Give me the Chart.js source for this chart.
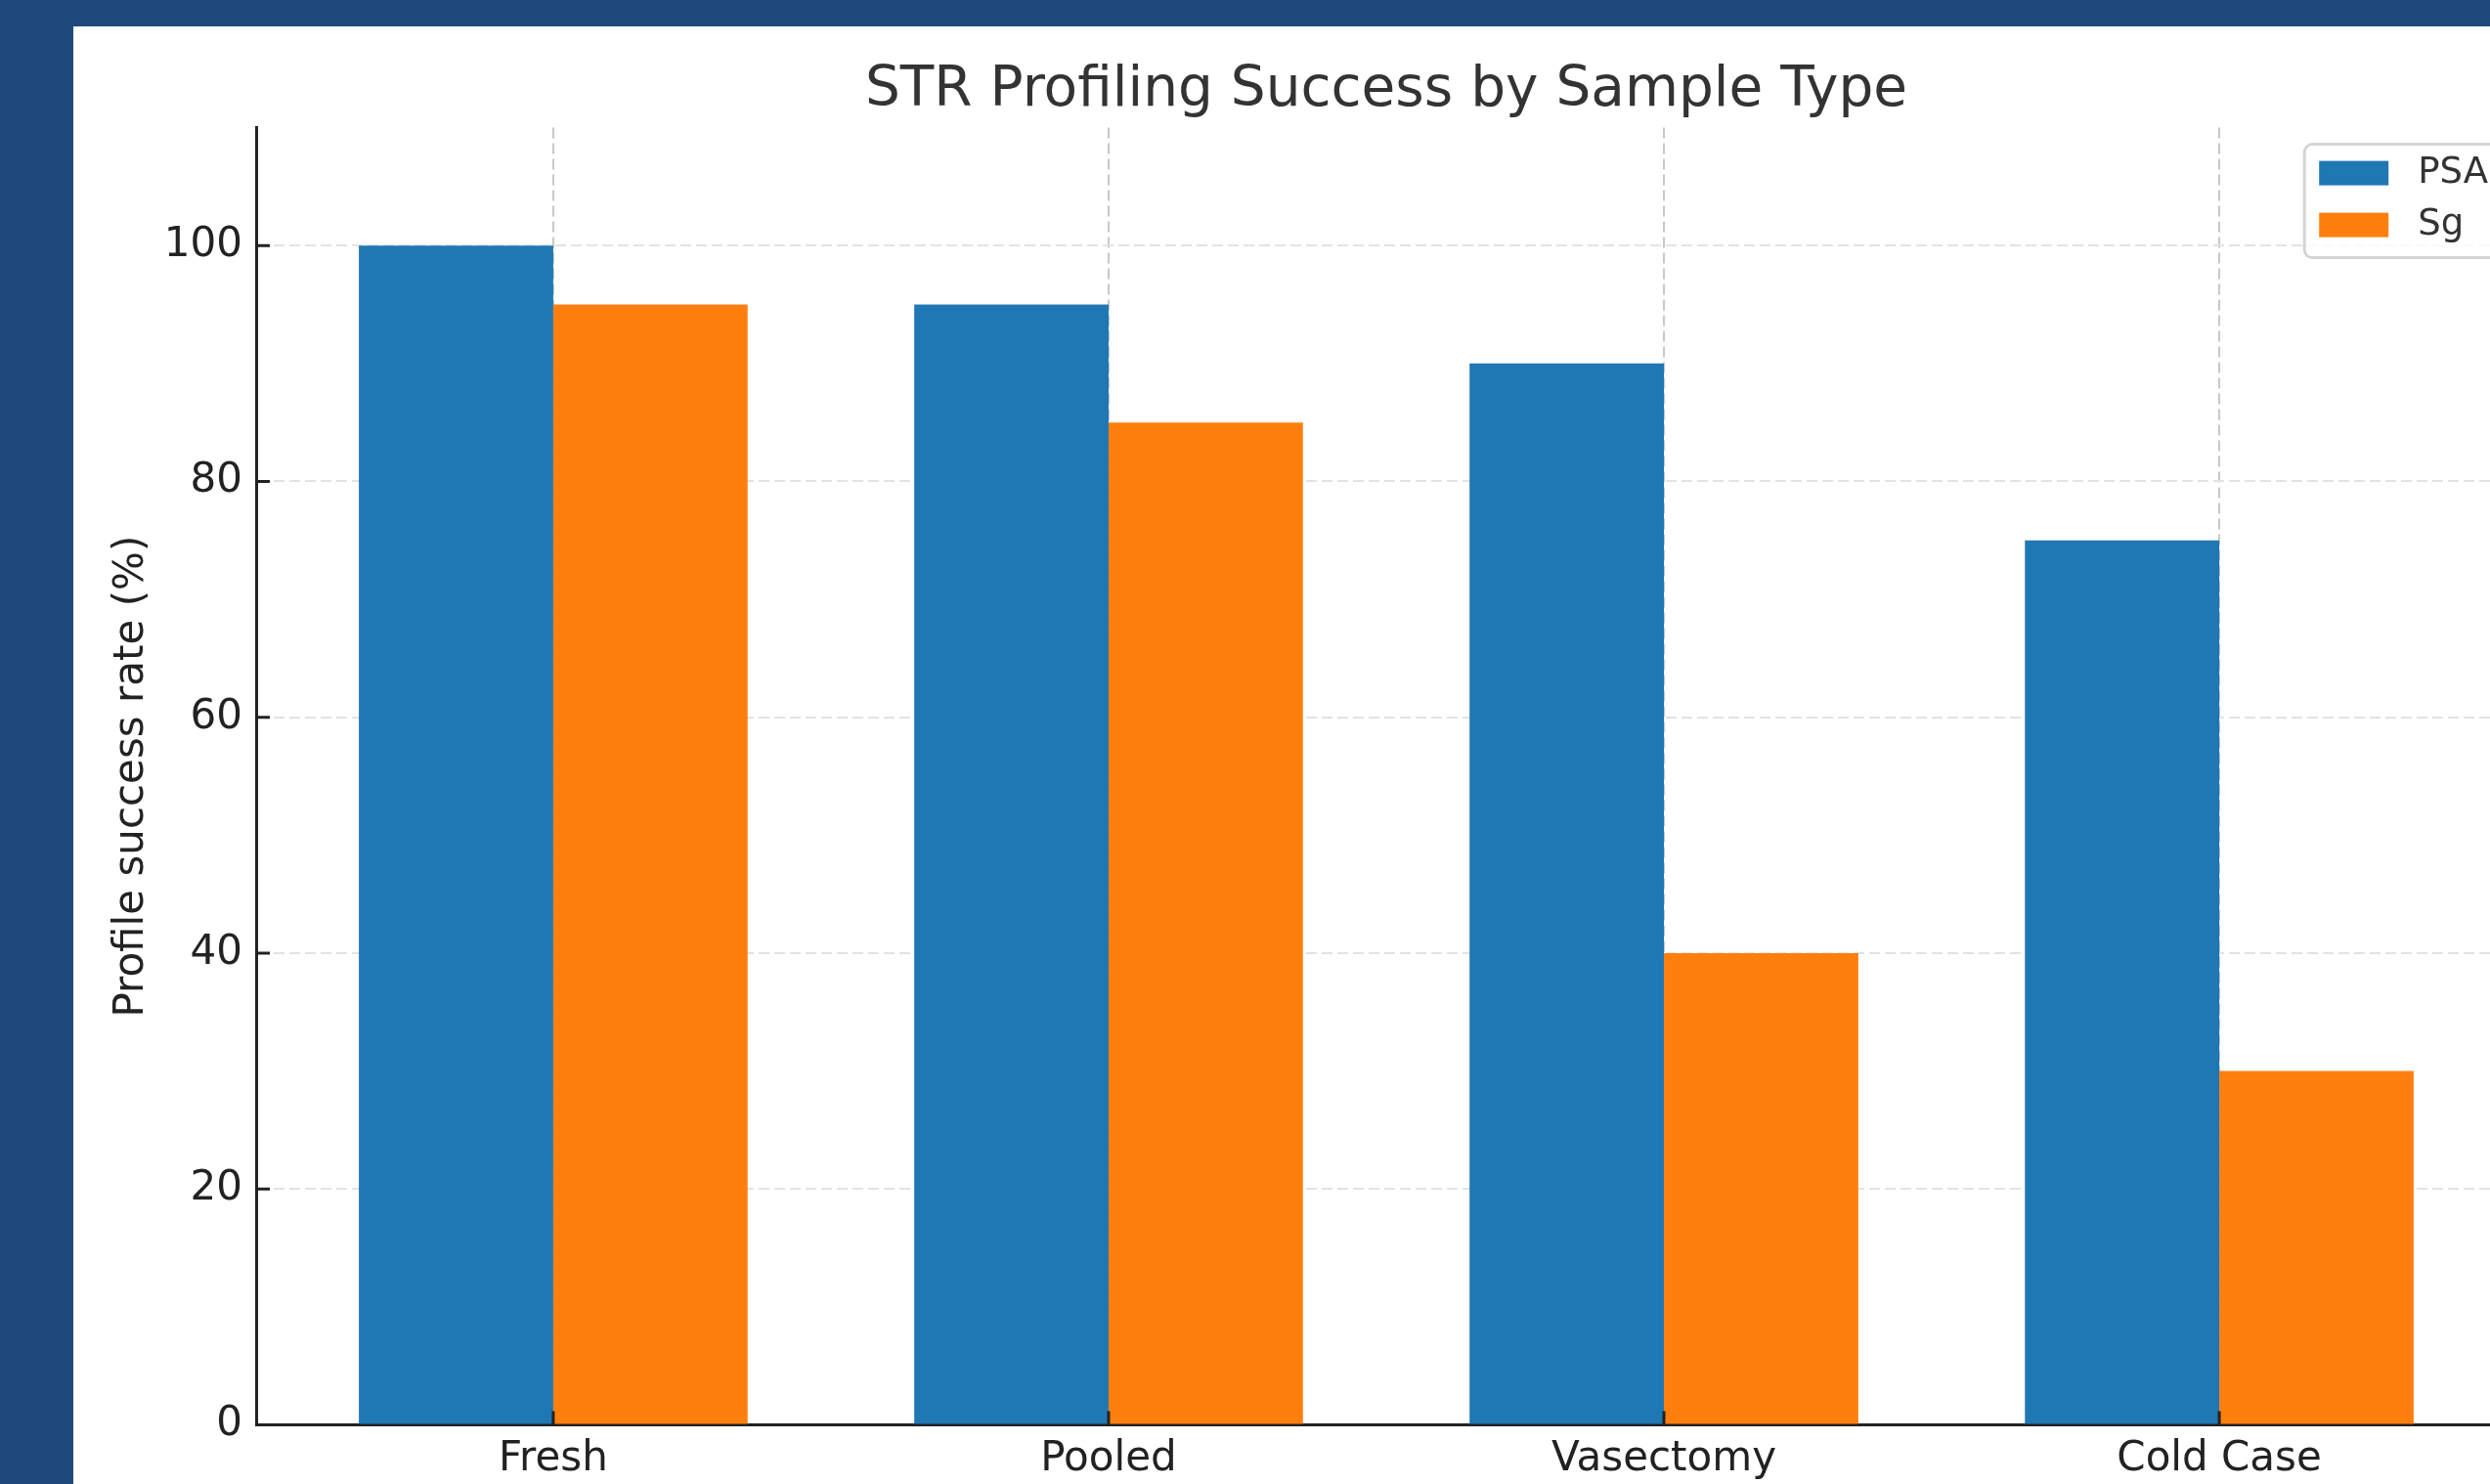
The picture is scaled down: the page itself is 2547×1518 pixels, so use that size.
<!DOCTYPE html>
<html>
<head>
<meta charset="utf-8">
<title>STR Profiling Success by Sample Type</title>
<script src="https://cdn.jsdelivr.net/npm/chart.js@4.4.0/dist/chart.umd.min.js"></script>
<style>
  html, body { margin: 0; padding: 0; }
  body { width: 2547px; height: 1518px; overflow: hidden; background: #1f497d; position: relative; }
  #wrap { position: absolute; left: 75px; top: 27px; width: 2686px; height: 1520px; background: #ffffff; }
  #strChart { display: block; }
</style>
</head>
<body>
<div id="wrap"><canvas id="strChart" width="2686" height="1520"></canvas></div>
<script>
const sampleTypes = ["Fresh", "Pooled", "Vasectomy", "Cold Case"];
const psaRates = [100, 95, 90, 75];
const sgRates = [95, 85, 40, 30];
const seriesNames = ["PSA", "Sg"];
const yTicks = [0, 20, 40, 60, 80, 100];

const ctx = document.getElementById("strChart");
Chart.defaults.font.family = '"DejaVu Sans", sans-serif';

// matplotlib style ticks pointing into the plot
const innerTicks = {
  id: "innerTicks",
  afterDraw(chart) {
    const c = chart.ctx;
    const x = chart.scales.x;
    const y = chart.scales.y;
    c.save();
    c.strokeStyle = "#222222";
    c.lineWidth = 3;
    c.beginPath();
    y.ticks.forEach((t, i) => {
      const py = y.getPixelForTick(i);
      c.moveTo(x.left, py);
      c.lineTo(x.left + 14, py);
    });
    x.ticks.forEach((t, i) => {
      const px = x.getPixelForTick(i);
      c.moveTo(px, y.bottom);
      c.lineTo(px, y.bottom - 14);
    });
    c.stroke();
    c.restore();
  }
};

// framed legend in the upper right corner of the plot
const legendBox = {
  id: "legendBox",
  afterDraw(chart) {
    const c = chart.ctx;
    const area = chart.chartArea;
    const sets = chart.data.datasets;
    c.save();
    c.font = '37px "DejaVu Sans", sans-serif';
    let textW = 0;
    sets.forEach(d => textW = Math.max(textW, c.measureText(d.label).width));
    const w = 15 + 71 + 30 + textW + 15;
    const right = area.right - 14;
    const left = right - w;
    const top = area.top + 17;
    const h = 116;
    c.beginPath();
    c.roundRect(left, top, w, h, 8);
    c.fillStyle = "rgba(255,255,255,0.8)";
    c.fill();
    c.lineWidth = 3;
    c.strokeStyle = "#d5d5d5";
    c.stroke();
    sets.forEach((d, i) => {
      const cy = top + 29.5 + i * 53;
      c.fillStyle = d.backgroundColor;
      c.fillRect(left + 15, cy - 12.5, 71, 25);
      c.fillStyle = "#333333";
      c.textBaseline = "middle";
      c.textAlign = "left";
      c.fillText(d.label, left + 15 + 71 + 30, cy);
    });
    c.restore();
  }
};

const chart = new Chart(ctx, {
  type: "bar",
  data: {
    datasets: [
      {
        label: seriesNames[0],
        data: psaRates.map((v, i) => ({x: i, y: v})),
        backgroundColor: "#1f77b4",
        borderWidth: 0
      },
      {
        label: seriesNames[1],
        data: sgRates.map((v, i) => ({x: i, y: v})),
        backgroundColor: "#ff7f0e",
        borderWidth: 0
      }
    ]
  },
  options: {
    responsive: false,
    animation: false,
    events: [],
    categoryPercentage: 0.7,
    barPercentage: 1.0,
    layout: { padding: 0 },
    plugins: {
      legend: { display: false },
      tooltip: { enabled: false },
      title: {
        display: true,
        text: "STR Profiling Success by Sample Type",
        color: "#333333",
        font: { size: 56.5, weight: "normal" },
        padding: { top: 32, bottom: 3.8 }
      }
    },
    scales: {
      x: {
        type: "linear",
        min: -0.535,
        max: 3.535,
        offset: false,
        z: 1,
        afterBuildTicks: scale => { scale.ticks = sampleTypes.map((s, i) => ({value: i})); },
        afterFit: scale => { scale.height = 89.5; },
        grid: { offset: false, color: "#c8c8c8", lineWidth: 2, drawTicks: false },
        border: { display: true, color: "#222222", width: 3, dash: [11, 5] },
        ticks: {
          color: "#222222",
          font: { size: 42 },
          padding: 10,
          maxRotation: 0,
          autoSkip: false,
          callback: value => sampleTypes[value] ?? ""
        }
      },
      y: {
        type: "linear",
        min: 0,
        max: 110,
        afterBuildTicks: scale => { scale.ticks = yTicks.map(v => ({value: v})); },
        afterFit: scale => { scale.width = 187; },
        grid: { color: "#e3e3e3", lineWidth: 2, drawTicks: false },
        border: { display: true, color: "#222222", width: 3, dash: [11, 5] },
        ticks: { color: "#222222", font: { size: 42 }, padding: 14 },
        title: {
          display: true,
          text: "Profile success rate (%)",
          color: "#222222",
          font: { size: 42 },
          padding: { top: 35, bottom: 0 }
        }
      },
      yRight: {
        type: "linear",
        position: "right",
        display: true,
        afterFit: scale => { scale.width = 187; },
        grid: { display: false },
        border: { display: false },
        ticks: { display: false }
      }
    }
  },
  plugins: [innerTicks, legendBox]
});
</script>
</body>
</html>
